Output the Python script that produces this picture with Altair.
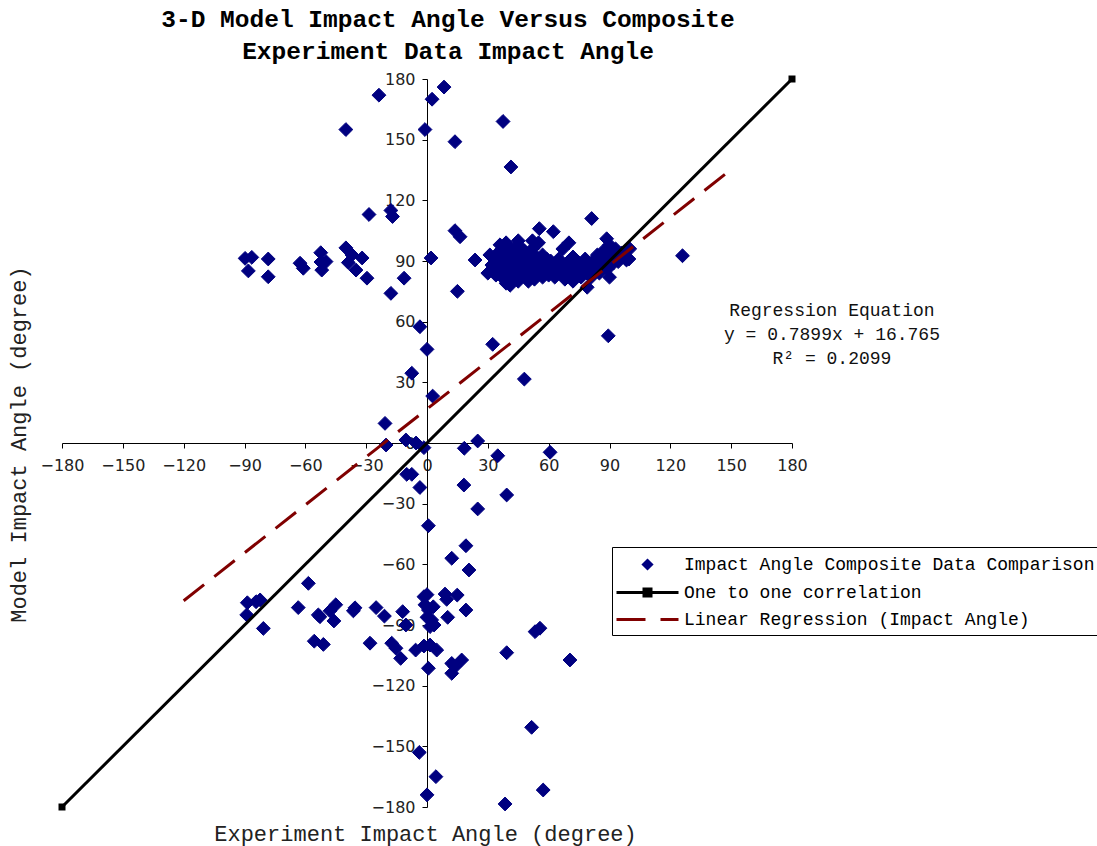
import altair as alt
import pandas as pd

S1 = "Impact Angle Composite Data Comparison"
S2 = "One to one correlation"
S3 = "Linear Regression (Impact Angle)"

# experiment (x) and model (y) impact angles, degrees
exp_angle = [
    8.4, 2.5, -23.7, -1, -40, 37.5, 13.8, 41.4, -28.6, -17.8, -17, 13.8, 16.3, 2, 23.7, 15, -17.8, -11.3, -29.6,
    -89.7, -86.4, -88.1, -78.3, -78.3, -62.6, -61, -52.4, -51.9, -49.8, -52.3, -40, -37, -38.8, -35, -32,
    55.4, 62.3, 81.2, 126, 89.4, 32.4, 48, -3.5, 0, -7.5, 2.8,
    -20.7, -20.2, -10.4, -5.4, -1.5, 18.4, 25, 34.9, 60.7, -10, -7.5, -3.5, 18.2, 39.3, 25, 0.7, 19.2,
    12.2, 20.7, -58.5, -88.6, -84.3, -82.3, -88.9, -80.7, -63.5, -53.6, -52.8, -47.8, -45, -45.9, -36.3, -35.5,
    -55.6, -51.1, -28.1, -25.1, -21, -12, -10.4, -17.4, -15.3, -13, -5.6,
    -1.5, 0, -1, 0.7, 3.1, 0, 2.3, 3.5, 1.5, -1.5, 1.5, 4.8, 0.7,
    8.9, 9.7, 14.9, 10.2, 19.2, 12.2, 13.8, 17.1, 12.2,
    53.3, 55.7, 39.3, 70.5, 51.6, -3.8, 4.4, 0, 38.5, 57.3,
    31, 32, 33, 34, 34, 35, 36, 36, 37, 37, 38, 38, 39, 39, 40, 40, 41, 41, 42, 42, 43, 43, 44, 44, 45, 45,
    46, 46, 47, 47, 48, 48, 49, 49, 50, 50, 51, 51, 52, 52, 53, 53, 54, 54, 55, 55, 56, 56, 57, 57, 58, 58,
    59, 60, 60, 39, 36, 45, 50, 30, 41, 79, 45, 39, 52, 70,
    61, 62, 63, 64, 65, 66, 67, 68, 69, 70, 71, 72, 73, 74, 75, 76, 77, 78, 79, 80, 81, 82, 83, 84, 85, 86,
    87, 88, 89, 90, 90, 91, 92, 93, 94, 96, 98, 100, 67, 72, 88.6, 99, 98.4, 94.3, 99.6,
]
model_angle = [
    176, 170, 172, 155, 155, 159, 149, 136.5, 113, 115, 112, 105, 102, 91.5, 90.5, 75, 74, 81.5, 81.5,
    91.3, 91.8, 85.1, 91, 82.2, 88.9, 86.4, 94.1, 85.5, 89.7, 89.5, 96.5, 93, 89.2, 85.5, 91.5,
    106, 104.5, 111, 92.6, 53, 48.8, 31.6, 57.5, 46.3, 34.5, 23.2,
    9.7, -1, 1.5, 0, -2.3, -2.6, 1, -6.3, -4.6, -15.5, -15.5, -22, -20.8, -25.7, -32.6, -40.9, -50.8,
    -57, -62.8, -69.4, -79, -78.5, -77.6, -85, -91.7, -81.4, -85, -85.9, -83, -80, -88, -83, -81.5,
    -98, -99.6, -99, -81.4, -85.6, -83.4, -90, -99, -101.5, -106.5, -102.4,
    -76, -75, -80, -82.6, -81, -86.2, -87.5, -90, -90.8, -100.4, -99.9, -102.4, -111.4,
    -74.7, -77.3, -75.2, -86.2, -82.6, -109, -110.6, -107.3, -113.9,
    -93.3, -91.6, -103.7, -107.3, -140.6, -153, -165, -174, -178.5, -171.6,
    93, 88, 85, 90, 83, 94, 87, 91, 96, 82, 89, 85, 92, 98, 80, 87, 94, 90, 84, 88, 96, 82, 91, 86, 93, 89,
    84, 97, 88, 91, 86, 95, 82, 90, 93, 87, 89, 84, 96, 91, 86, 81, 92, 88, 99, 84, 90, 86, 82, 93, 88, 85,
    91, 83, 87, 79, 98, 100, 80, 84, 78, 77, 80, 99, 100, 99,
    90, 85, 82, 88, 91, 84, 87, 81, 89, 85, 83, 92, 87, 84, 89, 82, 86, 91, 84, 88, 82, 90, 86, 93, 84, 88,
    95, 91, 86, 98, 82, 93, 89, 96, 92, 94, 91, 96, 96, 80, 101, 96, 90.5, 89.7, 91,
]

one_x = [-180, 180]
one_y = [-180, 180]
reg_x = [-120, 148]
reg_y = [-78.0, 133.7]
ticks = [-180, -150, -120, -90, -60, -30, 0, 30, 60, 90, 120, 150, 180]
eq_lines = ["Regression Equation", "y = 0.7899x + 16.765", "R\u00b2 = 0.2099"]

pts = pd.DataFrame({"x": exp_angle, "y": model_angle, "series": S1})
one = pd.DataFrame({"x": one_x, "y": one_y, "series": S2})
reg = pd.DataFrame({"x": reg_x, "y": reg_y, "series": S3})

W, H = 730, 728
MONO = "Liberation Mono"

dom = [S1, S2, S3]
col_rng = ["#000080", "#000000", "#800000"]
shape_rng = [
    "M-0.4,0L0,-0.4L0.4,0L0,0.4Z",
    "M-3.1,0H3.1M-0.35,-0.35H0.35V0.35H-0.35Z",
    "M-3.1,0H-0.2M1.3,0H3.1",
]

leg = alt.Legend(
    orient="none", legendX=550, legendY=468, title=None,
    symbolSize=400, symbolStrokeWidth=3, symbolOffset=18,
    labelFont=MONO, labelFontSize=18, labelColor="black", labelLimit=1000, labelOffset=25,
    strokeColor="black", fillColor="white", padding=6, rowPadding=6,
)

xs = alt.Scale(domain=[-180, 180], nice=False)
ys = alt.Scale(domain=[-180, 180], nice=False)

xax = alt.Axis(
    values=ticks, orient="bottom", offset=-H / 2, grid=False,
    labelFont="DejaVu Sans", labelFontSize=16, labelColor="#222", labelPadding=9, labelFlush=False,
    labelOverlap=False, tickSize=5, tickColor="black", domainColor="black",
    title="Experiment Impact Angle (degree)", titleFont=MONO, titleFontSize=22, titleFontWeight="normal",
    titleColor="#222", titleX=363, titleY=390, titleBaseline="middle", titleAlign="center",
)
yax = alt.Axis(
    values=ticks, orient="left", offset=-W / 2, grid=False,
    labelFont="DejaVu Sans", labelFontSize=16, labelColor="#222", labelPadding=7, labelFlush=False,
    labelOverlap=False, tickSize=5, tickColor="black", domainColor="black",
    title="Model Impact Angle (degree)", titleFont=MONO, titleFontSize=22, titleFontWeight="normal",
    titleColor="#222", titleX=-409, titleY=365, titleAngle=270, titleBaseline="middle", titleAlign="center",
)

points = alt.Chart(pts).mark_point(filled=True, size=1200, strokeWidth=1, opacity=1).encode(
    x=alt.X("x:Q", scale=xs, axis=xax),
    y=alt.Y("y:Q", scale=ys, axis=yax),
    fill=alt.Fill("series:N", scale=alt.Scale(domain=dom, range=col_rng), legend=leg),
    stroke=alt.Stroke("series:N", scale=alt.Scale(domain=dom, range=col_rng), legend=leg),
    shape=alt.Shape("series:N", scale=alt.Scale(domain=dom, range=shape_rng), legend=leg),
)

one_line = alt.Chart(one).mark_line(strokeWidth=3).encode(
    x="x:Q", y="y:Q",
    stroke=alt.Stroke("series:N", scale=alt.Scale(domain=dom, range=col_rng), legend=leg),
)
one_end = alt.Chart(one).mark_square(size=49, color="black", opacity=1).encode(x="x:Q", y="y:Q")

reg_line = alt.Chart(reg).mark_line(strokeWidth=3, strokeDash=[26, 13]).encode(
    x="x:Q", y="y:Q",
    stroke=alt.Stroke("series:N", scale=alt.Scale(domain=dom, range=col_rng), legend=leg),
)

eq_text = alt.Chart(pd.DataFrame({"t": ["\n".join(eq_lines)]})).mark_text(
    font=MONO, fontSize=18, lineBreak="\n", lineHeight=24, align="center", baseline="middle", color="#111"
).encode(x=alt.datum(199.7), y=alt.datum(65.3), text="t:N")

chart = alt.layer(points, one_line, reg_line, one_end, eq_text).properties(
    width=W, height=H,
    background="white",
    title=alt.TitleParams(
        ["3-D Model Impact Angle Versus Composite", "Experiment Data Impact Angle"],
        font=MONO, fontSize=24.5, fontWeight="bold", color="black", anchor="middle", frame="group",
        dx=21, offset=7, lineHeight=32,
    ),
    autosize=alt.AutoSizeParams(type="none"),
    padding={"left": 62, "top": 79, "right": 305, "bottom": 39},
).configure_view(stroke="transparent", strokeWidth=0)

chart.save("out.html", embed_options={"renderer": "svg", "actions": False})
